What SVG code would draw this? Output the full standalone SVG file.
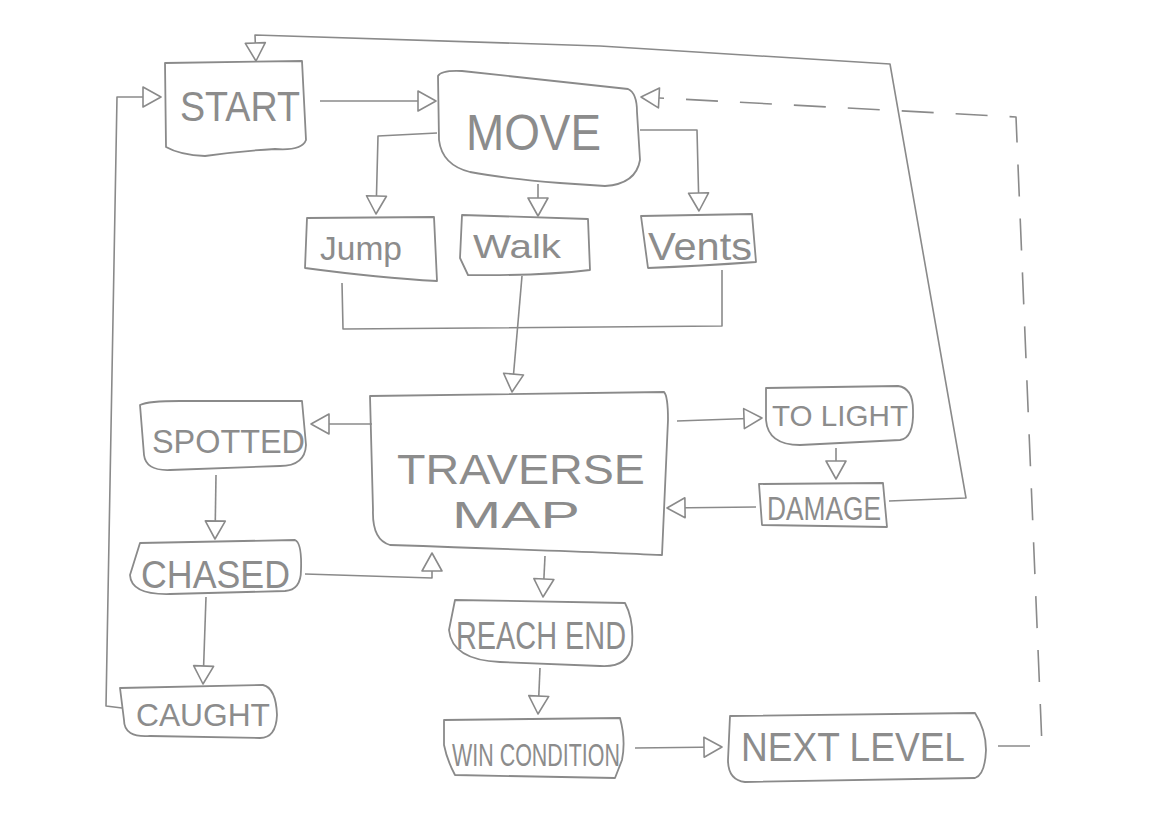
<svg xmlns="http://www.w3.org/2000/svg" width="1169" height="826" viewBox="0 0 1169 826">
<style>
.box{fill:none;stroke:#8a8a8a;stroke-width:1.8;stroke-linejoin:round}
.ln{fill:none;stroke:#8a8a8a;stroke-width:1.6;stroke-linejoin:round}
.arr{marker-end:url(#tri)}
.dash{stroke-dasharray:32 22}
.t{font-family:"Liberation Sans",Arial,sans-serif;fill:#8c8c8c}
</style>
<defs>
<marker id="tri" markerUnits="userSpaceOnUse" markerWidth="22" markerHeight="24" refX="18" refY="10" orient="auto" viewBox="-2 -2 22 24">
<path d="M0,0 L18,10 L0,20 Z" fill="#fff" stroke="#8a8a8a" stroke-width="1.6" stroke-linejoin="round"/>
</marker>
</defs>
<rect width="1169" height="826" fill="#fff"/>
<g id="connectors">
<path class="ln arr" d="M320,101 L436,101"/>
<path class="ln arr" d="M437,133 L378,136 L376,214"/>
<path class="ln arr" d="M538,184 L538,216"/>
<path class="ln arr" d="M640,130 L697,130 L699,211"/>
<path class="ln" d="M342,283 L343,329 L722,326 L722,270"/>
<path class="ln arr" d="M522,276 L512,392"/>
<path class="ln arr" d="M372,424 L311,424"/>
<path class="ln arr" d="M216,475 L215,539"/>
<path class="ln arr" d="M305,574 L432,578 L432,553"/>
<path class="ln arr" d="M206,597 L203,684"/>
<path class="ln arr" d="M122,708 L106,706 L117,97 L161,97"/>
<path class="ln arr" d="M677,421 L762,418"/>
<path class="ln arr" d="M836,448 L836,479"/>
<path class="ln arr" d="M756,507 L667,508"/>
<path class="ln arr" d="M889,501 L966,498 L890,64 L600,46 L255,35 L256,61"/>
<path class="ln arr" d="M545,556 L543,597"/>
<path class="ln arr" d="M540,668 L538,714"/>
<path class="ln arr" d="M635,748 L722,747"/>
<path class="ln dash arr" d="M998,746 L1042,746 L1016,117 L641,97"/>
</g>
<g id="start">
<path class="box" d="M165,63 L302,61 L306,140 Q302,151 275,149 Q240,151 205,156 Q180,155 166,147 Z"/>
<text class="t" x="180" y="121" font-size="42" textLength="120" lengthAdjust="spacingAndGlyphs">START</text>
</g>
<g id="move">
<path class="box" d="M438,76 Q441,70 462,71 L628,89 Q637,93 637,112 L640,160 Q636,184 605,186 L560,183 Q500,178 470,172 Q442,165 439,140 Z"/>
<text class="t" x="466" y="150" font-size="50" textLength="135" lengthAdjust="spacingAndGlyphs">MOVE</text>
</g>
<g id="jump">
<path class="box" d="M307,218 L434,217 L437,281 Q380,278 305,268 Z"/>
<text class="t" x="320" y="260" font-size="33" textLength="82" lengthAdjust="spacingAndGlyphs">Jump</text>
</g>
<g id="walk">
<path class="box" d="M462,215 L588,219 L590,270 Q540,276 468,275 L460,258 Z"/>
<text class="t" x="473" y="258" font-size="34" textLength="88" lengthAdjust="spacingAndGlyphs">Walk</text>
</g>
<g id="vents">
<path class="box" d="M641,216 L752,214 L756,262 Q700,266 648,268 Z"/>
<text class="t" x="648" y="260" font-size="38" textLength="104" lengthAdjust="spacingAndGlyphs">Vents</text>
</g>
<g id="traverse">
<path class="box" d="M370,396 L664,392 Q668,396 668,420 L662,555 Q600,552 390,545 Q372,540 373,510 Z"/>
<text class="t" x="397" y="484" font-size="42" textLength="248" lengthAdjust="spacingAndGlyphs">TRAVERSE</text>
<text class="t" x="452" y="528" font-size="36" textLength="128" lengthAdjust="spacingAndGlyphs">MAP</text>
</g>
<g id="spotted">
<path class="box" d="M140,405 Q148,401 180,401 L302,401 L306,445 Q305,466 280,466 L170,470 Q146,471 144,455 Z"/>
<text class="t" x="152" y="453" font-size="34" textLength="153" lengthAdjust="spacingAndGlyphs">SPOTTED</text>
</g>
<g id="chased">
<path class="box" d="M140,543 L295,540 Q302,543 301,570 Q301,590 285,591 L170,594 Q131,595 130,575 Z"/>
<text class="t" x="141" y="588" font-size="38" textLength="149" lengthAdjust="spacingAndGlyphs">CHASED</text>
</g>
<g id="caught">
<path class="box" d="M120,688 L263,685 Q276,688 277,715 Q276,738 260,738 L150,736 Q124,738 124,720 Z"/>
<text class="t" x="136" y="726" font-size="32" textLength="134" lengthAdjust="spacingAndGlyphs">CAUGHT</text>
</g>
<g id="tolight">
<path class="box" d="M766,388 L898,386 Q913,388 913,410 Q914,438 900,440 L800,445 Q768,445 766,420 Z"/>
<text class="t" x="772" y="426" font-size="29" textLength="136" lengthAdjust="spacingAndGlyphs">TO LIGHT</text>
</g>
<g id="damage">
<path class="box" d="M759,484 L883,483 L887,527 L762,525 Z"/>
<text class="t" x="767" y="520" font-size="34" textLength="114" lengthAdjust="spacingAndGlyphs">DAMAGE</text>
</g>
<g id="reachend">
<path class="box" d="M455,600 L625,603 Q634,620 632,645 Q628,668 600,666 L500,662 Q452,660 449,630 Z"/>
<text class="t" x="456" y="649" font-size="38" textLength="170" lengthAdjust="spacingAndGlyphs">REACH END</text>
</g>
<g id="wincondition">
<path class="box" d="M444,720 L620,718 Q626,740 622,760 L615,778 L455,775 Q447,760 444,745 Z"/>
<text class="t" x="452" y="766" font-size="31" textLength="168" lengthAdjust="spacingAndGlyphs">WIN CONDITION</text>
</g>
<g id="nextlevel">
<path class="box" d="M730,716 L975,713 Q986,730 986,750 Q985,775 975,778 L745,782 Q728,780 728,760 Z"/>
<text class="t" x="741" y="761" font-size="40" textLength="224" lengthAdjust="spacingAndGlyphs">NEXT LEVEL</text>
</g>
</svg>
